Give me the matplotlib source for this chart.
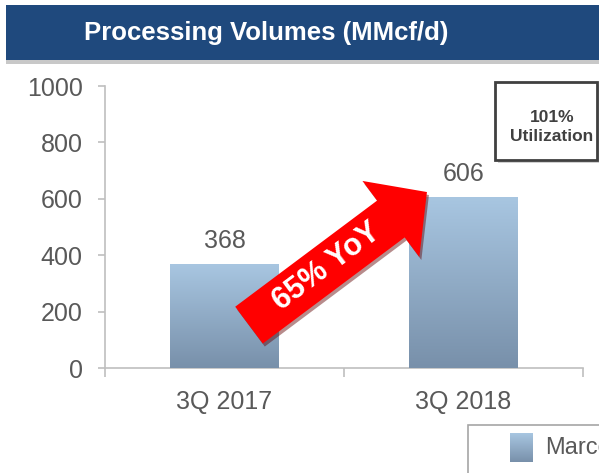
import numpy as np
import matplotlib
matplotlib.use("Agg")
import matplotlib.pyplot as plt
from matplotlib.patches import Rectangle, FancyArrow
from matplotlib.colors import LinearSegmentedColormap
from matplotlib.transforms import IdentityTransform

# data
quarters = ["3Q 2017", "3Q 2018"]
volumes = [368, 606]
series_name = "Marcellus"
title = "Processing Volumes (MMcf/d)"
yoy_text = "65% YoY"
util_text = "101%\nUtilization"

W, H = 599, 473
def fx(px):
    return px / W
def fy(py):
    return 1 - py / H

plt.rcParams['font.family'] = ['Liberation Sans', 'DejaVu Sans']
fig = plt.figure(figsize=(W / 100, H / 100), dpi=100)
fig.patch.set_facecolor("white")

# title banner
fig.patches.append(Rectangle((fx(6), fy(64)), 1.0, (59 - 5) / H, transform=fig.transFigure,
                             facecolor="#c8c8c8", edgecolor="none", zorder=0))
fig.patches.append(Rectangle((fx(6), fy(60)), 1.0, (60 - 5) / H, transform=fig.transFigure,
                             facecolor="#1F497D", edgecolor="none", zorder=1))
fig.text(fx(266), fy(33), title, ha="center", va="center", color="white",
         fontsize=18.5, fontweight="bold")

ax = fig.add_axes([fx(105), fy(368), (583 - 105) / W, (368 - 86) / H])
x = np.arange(len(quarters))
bar_w = 0.456
bars = ax.bar(x, volumes, width=bar_w, color="#94afca", zorder=2)

cmap = LinearSegmentedColormap.from_list("barfade", ["#7890aa", "#a8c6e1"])
grad = np.linspace(0, 1, 256).reshape(-1, 1)
for b in bars:
    im = ax.imshow(grad, cmap=cmap, origin="lower", aspect="auto", zorder=3,
                   extent=[b.get_x(), b.get_x() + b.get_width(), 0, b.get_height()])
    im.set_clip_path(b)

for xi, v in zip(x, volumes):
    ax.annotate(str(v), (xi, v), xytext=(0, 8), textcoords="offset points",
                ha="center", va="bottom", fontsize=18, color="#595959")

ax.set_xlim(-0.5, 1.5)
ax.set_ylim(0, 1000)
ax.set_yticks(range(0, 1001, 200))
ax.set_xticks(x, quarters)
ax.set_xticks([-0.5, 0.5, 1.5], minor=True)
ax.tick_params(axis="y", labelsize=18, labelcolor="#595959", color="#bfbfbf",
               length=5, width=1.2, pad=11)
ax.tick_params(axis="x", which="major", labelsize=18, labelcolor="#595959",
               length=0, pad=16)
ax.tick_params(axis="x", which="minor", length=6.5, width=1.2, color="#bfbfbf")
for s in ["top", "right"]:
    ax.spines[s].set_visible(False)
for s in ["left", "bottom"]:
    ax.spines[s].set_color("#bfbfbf")
    ax.spines[s].set_linewidth(1.2)

# red YoY arrow, anchored in data space, drawn in pixels
tail = ax.transData.transform((0.1025, 152))
tip = ax.transData.transform((0.847, 624))
d = tip - tail
for off, col, z, a in [((2, -3), "#600000", 5, 0.45), ((0, 0), "#ff0000", 6, 1.0)]:
    arr = FancyArrow(tail[0] + off[0], tail[1] + off[1], d[0], d[1], width=46,
                     head_width=95, head_length=45, length_includes_head=True,
                     facecolor=col, edgecolor="none", transform=IdentityTransform(),
                     zorder=z, alpha=a)
    fig.add_artist(arr)
ang = np.degrees(np.arctan2(d[1], d[0]))
mid = tail + d * 0.44
fig.text(mid[0] / W, mid[1] / H, yoy_text, rotation=ang, rotation_mode="anchor",
         ha="center", va="center", color="white", fontsize=22, fontweight="bold", zorder=7)

# utilization box
fig.patches.append(Rectangle((fx(498), fy(163)), (597 - 495) / W, (160 - 82) / H,
                             transform=fig.transFigure, facecolor="#d0d0d0",
                             edgecolor="none", zorder=1))
fig.patches.append(Rectangle((fx(495), fy(160)), (597 - 495) / W, (160 - 82) / H,
                             transform=fig.transFigure, facecolor="white",
                             edgecolor="#404040", linewidth=2, zorder=2))
fig.text(fx(552), fy(127), util_text, ha="center", va="center", color="#404040",
         fontsize=12.5, fontweight="bold", linespacing=1.3)

# legend box (cut off at the right edge, as in the source slide)
fig.patches.append(Rectangle((fx(468), fy(480)), 0.5, (480 - 425) / H,
                             transform=fig.transFigure, facecolor="white",
                             edgecolor="#a6a6a6", linewidth=1.2, zorder=1))
lax = fig.add_axes([fx(510), fy(462), (533 - 510) / W, (462 - 433) / H], zorder=3)
lax.imshow(grad, cmap=cmap, origin="lower", aspect="auto")
lax.set_axis_off()
fig.text(fx(545), fy(448), series_name, ha="left", va="center", fontsize=17,
         color="#595959", zorder=4)

fig.savefig("out.png", dpi=100)
